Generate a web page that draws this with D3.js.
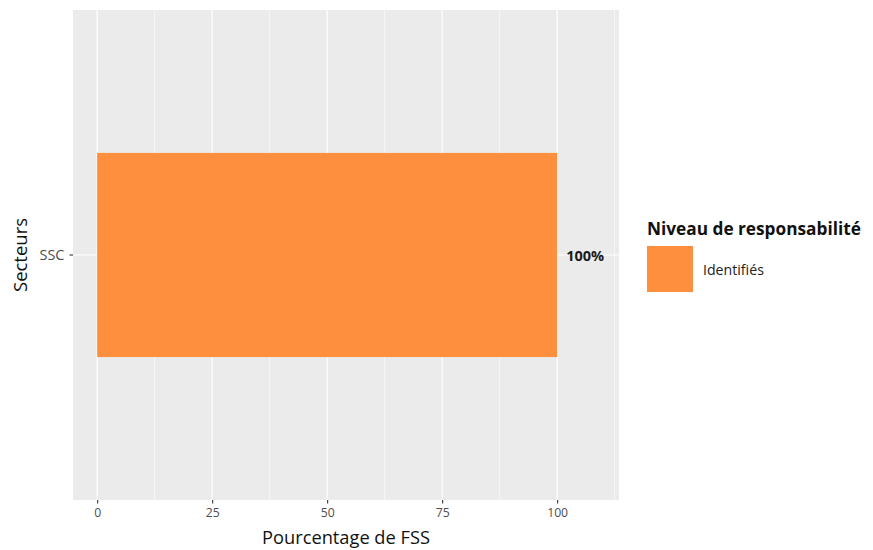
<!DOCTYPE html>
<html><head><meta charset="utf-8">
<script src="https://cdn.jsdelivr.net/npm/d3@7"></script>
<style>body{margin:0;background:#fff;} svg{display:block;font-family:"Open Sans",sans-serif;}</style>
</head><body><svg id="c" width="873" height="550"></svg>
<script>
const categories = ["SSC"];
const values = [100];
const labels = ["100%"];
const seriesName = "Identifiés";
const legendTitle = "Niveau de responsabilité";
const xTicks = [0, 25, 50, 75, 100];
const xMinor = [12.5, 37.5, 62.5, 87.5, 112.5];
const color = "#FD8F3F";
const FONT = "'Open Sans',sans-serif";

const svg = d3.select("#c");
const P = {l:73, r:619, t:10, b:500};
const x = d3.scaleLinear().domain([-5.25, 113.45]).range([P.l, P.r]);
const y = d3.scaleBand().domain(categories).range([P.t, P.b]).paddingInner(0).paddingOuter(0);
const bandC = c => y(c) + y.bandwidth()/2;
const barH = (P.b - P.t) * 0.5/1.2;

// fit text to a target width (reference font is wider than available fonts)
function fit(sel, w){ sel.each(function(){ const n=this.getComputedTextLength(); if(n>0){ const fs=parseFloat(this.getAttribute("font-size")); this.setAttribute("font-size", fs*w/n);} }); }

svg.append("rect").attr("x",P.l).attr("y",P.t).attr("width",P.r-P.l).attr("height",P.b-P.t).attr("fill","#EBEBEB");
const g = svg.append("g");
g.selectAll(".minor").data(xMinor).join("line").attr("x1",d=>x(d)).attr("x2",d=>x(d)).attr("y1",P.t).attr("y2",P.b).attr("stroke","#fff").attr("stroke-width",0.6);
g.selectAll(".major").data(xTicks).join("line").attr("x1",d=>x(d)).attr("x2",d=>x(d)).attr("y1",P.t).attr("y2",P.b).attr("stroke","#fff").attr("stroke-width",1.2);
g.selectAll(".hmajor").data(categories).join("line").attr("x1",P.l).attr("x2",P.r).attr("y1",d=>bandC(d)).attr("y2",d=>bandC(d)).attr("stroke","#fff").attr("stroke-width",1.2);

svg.selectAll(".bar").data(values).join("rect")
  .attr("x",x(0)).attr("y",(d,i)=>bandC(categories[i])-barH/2)
  .attr("width",d=>x(d)-x(0)).attr("height",barH).attr("fill",color);
const vl = svg.selectAll(".lab").data(values).join("text")
  .attr("x",d=>x(d)+9).attr("y",(d,i)=>bandC(categories[i])+5.5)
  .attr("font-size",13).attr("font-weight","bold").attr("fill","#1a1a1a").text((d,i)=>labels[i]);
fit(vl, 38);

// x axis
const xa = svg.append("g").attr("transform",`translate(0,${P.b})`)
  .call(d3.axisBottom(x).tickValues(xTicks).tickSize(3.5).tickPadding(5).tickFormat(d3.format("d")));
xa.select(".domain").remove();
xa.selectAll(".tick line").attr("stroke","#333").attr("stroke-width",1.1);
xa.selectAll("text").attr("font-size",12.5).attr("fill","#4D4D4D").attr("font-family",FONT);
const t100 = xa.selectAll("text").filter(d=>d===100).node();
const tickFs = 12.5*21/t100.getComputedTextLength();
xa.selectAll("text").attr("font-size",tickFs);
// y axis
const ya = svg.append("g").attr("transform",`translate(${P.l},0)`)
  .call(d3.axisLeft(y).tickSize(3.5).tickPadding(5));
ya.select(".domain").remove();
ya.selectAll(".tick line").attr("stroke","#333").attr("stroke-width",1.1);
ya.selectAll("text").attr("font-size",tickFs).attr("fill","#4D4D4D").attr("font-family",FONT);
fit(ya.selectAll("text"), 25);

const xt = svg.append("text").attr("x",(P.l+P.r)/2).attr("y",544).attr("text-anchor","middle").attr("font-size",16).attr("fill","#111").text("Pourcentage de FSS");
fit(xt, 168);
const yt = svg.append("text").attr("transform",`translate(27,${(P.t+P.b)/2}) rotate(-90)`).attr("text-anchor","middle").attr("font-size",16).attr("fill","#111").text("Secteurs");
fit(yt, 74);

// legend
const lt = svg.append("text").attr("x",647).attr("y",235).attr("font-size",16).attr("font-weight","bold").attr("fill","#111").text(legendTitle);
fit(lt, 214);
svg.append("rect").attr("x",647).attr("y",246).attr("width",46).attr("height",46).attr("fill",color);
const ll = svg.append("text").attr("x",703).attr("y",275).attr("font-size",13).attr("fill","#222").text(seriesName);
fit(ll, 61);
</script></body></html>
